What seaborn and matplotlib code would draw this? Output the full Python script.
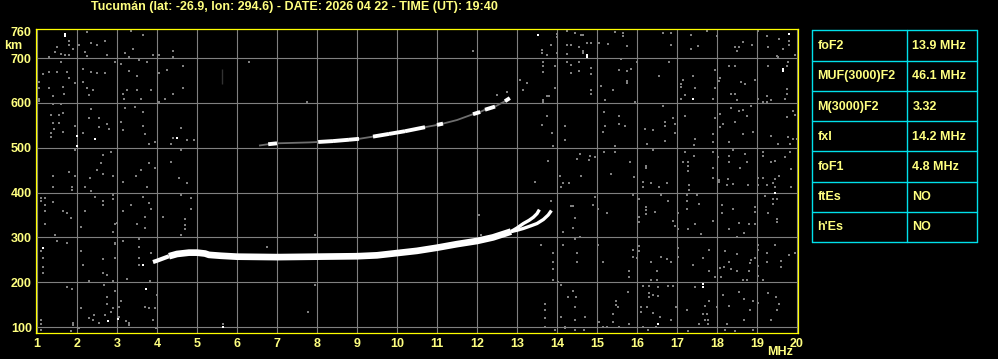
import numpy as np
import pandas as pd
import matplotlib
matplotlib.use("Agg")
import matplotlib.pyplot as plt
import seaborn as sns

# ---------------- data ----------------
title = "Tucumán (lat: -26.9, lon: 294.6) - DATE: 2026 04 22 - TIME (UT): 19:40"
x_ticks = list(range(1, 21))
y_ticks = [100, 200, 300, 400, 500, 600, 700, 760]
x_grid = list(range(1, 21))
y_grid = [100, 200, 300, 400, 500, 600, 700]

table_labels = ["foF2", "MUF(3000)F2", "M(3000)F2", "fxI", "foF1", "ftEs", "h'Es"]
table_values = ["13.9 MHz", "46.1 MHz", "3.32", "14.2 MHz", "4.8 MHz", "NO", "NO"]

# F-layer first-hop trace (common part)
trace_start_f = [3.9, 4.0, 4.15, 4.3]
trace_start_h = [245, 248, 253, 258]
trace_main_f = [4.3, 4.5, 4.8, 5.0, 5.2, 5.3, 5.6, 6.0, 7.0, 8.0, 9.0, 9.5, 10.0, 10.5, 11.0, 11.5, 12.0, 12.4, 12.85]
trace_main_h = [258, 263, 266, 266, 264, 261, 259, 257, 256, 257, 258, 260, 265, 270, 277, 285, 292, 300, 313]
# split branches near the critical frequency
branch_o_f = [12.85, 13.0, 13.16, 13.3, 13.41, 13.5, 13.56]
branch_o_h = [313, 321, 331, 338, 345, 353, 362]
branch_x_f = [12.85, 13.0, 13.16, 13.35, 13.5, 13.66, 13.78, 13.86]
branch_x_h = [313, 316, 320, 326, 331, 340, 350, 360]

# second-hop trace
upper_f = [6.55, 6.78, 7.0, 7.4, 7.8, 8.03, 8.4, 8.8, 9.05, 9.4, 9.8, 10.2, 10.7, 11.0, 11.15, 11.5, 11.9, 12.08, 12.2, 12.45, 12.7, 12.82]
upper_h = [505, 508, 510, 511, 512, 513, 515, 518, 520, 525, 531, 537, 546, 551, 554, 562, 575, 580, 585, 592, 604, 611]
upper_bright = [0, 1, 0, 0, 0, 1, 1, 1, 0, 1, 1, 1, 0, 1, 0, 0, 1, 0, 1, 0, 1, 0]

# vertical echo streak
streak_f = [5.63, 5.63]
streak_h = [642, 676]

# scattered noise echoes (gray)
noise_f = [
    2.25, 3.35, 3.64, 1.79, 1.50, 1.79, 2.04, 2.35, 2.50, 2.70, 1.44, 1.60, 1.70, 1.81, 1.89, 2.20, 2.25, 2.75, 3.20, 3.39,
    3.31, 3.89, 4.04, 4.39, 4.39, 1.29, 1.60, 2.95, 3.10, 3.54, 3.74, 4.64, 1.14, 1.29, 1.50, 1.74, 2.14, 2.35, 2.50, 2.70,
    3.29, 3.50, 4.04, 4.24, 1.79, 1.95, 1.04, 1.04, 1.29, 1.64, 2.14, 2.25, 2.40, 2.29, 3.14, 3.25, 3.50, 3.85, 4.39, 4.64,
    1.39, 1.68, 1.04, 1.04, 3.17, 3.60, 4.21, 4.04, 1.39, 1.60, 3.45, 3.20, 2.35, 3.64, 1.64, 1.35, 1.56, 2.56, 2.31, 2.75,
    2.79, 2.54, 3.10, 3.16, 3.64, 1.39, 1.54, 1.43, 1.35, 1.64, 1.96, 2.14, 1.35, 4.39, 4.60, 4.75, 4.93, 3.70, 3.81, 3.96,
    4.35, 4.60, 1.96, 2.64, 2.85, 2.60, 2.49, 2.64, 2.89, 1.81, 1.96, 1.39, 3.81, 3.60, 3.48, 3.96, 4.35, 4.54, 2.33,
    1.39, 1.88, 1.88, 2.21, 2.35, 3.14, 3.75, 4.74, 1.10, 1.10, 1.20, 1.39, 1.20, 1.20, 1.64, 1.75, 1.85, 2.20, 2.45, 2.64,
    2.64, 2.89, 2.89, 3.14, 3.35, 3.64, 3.79, 3.85, 3.70, 3.50, 3.70, 4.14, 4.60, 4.85, 4.85, 4.70, 4.70, 4.70, 4.60, 1.20,
    1.45, 1.50, 1.75, 2.10, 2.96, 2.89, 3.00, 1.10, 1.14, 1.14, 1.14, 2.10, 2.14, 2.64, 2.64, 2.75, 2.95, 2.95, 2.95, 3.14,
    3.54, 3.54, 3.54, 3.85, 3.56, 2.29, 2.89, 3.25, 3.83, 1.75, 1.88, 2.68, 2.95, 3.99, 2.75, 2.75, 2.10, 3.04, 2.89, 3.10,
    2.85, 2.71, 2.29, 2.43, 2.54, 2.39, 3.06, 3.22, 3.29, 3.29, 1.89, 1.89, 1.10, 1.10, 1.10, 3.71, 3.81, 3.96, 3.89, 3.98,
    1.85, 2.04,
    6.30, 7.74, 11.89, 12.49, 12.74, 13.08, 13.14, 13.24, 7.95, 6.74, 12.09, 13.45, 12.05, 13.59, 7.95, 7.78, 5.64,
    13.99, 13.99, 14.24, 14.45, 14.60, 14.65, 15.64, 15.64, 15.45, 16.66, 16.84, 17.74, 17.35, 17.99, 19.03, 19.24, 19.55,
    19.80, 19.80, 19.64, 19.95, 19.49, 13.85, 13.62, 13.62, 13.74, 13.99, 14.24, 14.24, 14.35, 14.55, 14.64, 14.64, 14.74,
    14.85, 15.28, 15.74, 15.05, 16.84, 17.53, 17.35, 18.45, 18.55, 18.87, 18.49, 18.66, 19.28, 19.53, 13.64, 13.64, 13.64,
    13.95, 14.24, 14.35, 14.56, 14.56, 14.85, 14.85, 14.35, 15.60, 15.55, 15.74, 15.85, 15.74, 15.74, 15.99, 16.55, 16.80,
    15.10, 15.39, 14.85, 14.85, 13.95, 13.74, 13.80, 13.64, 13.64, 15.20, 15.95, 17.09, 17.09, 17.16, 17.39, 17.45, 17.20,
    17.09, 17.95, 18.08, 18.05, 18.30, 18.45, 18.60, 18.70, 18.35, 18.45, 17.95, 17.91, 18.95, 18.49, 19.03, 19.14, 19.24,
    19.34, 19.24, 19.74, 19.74, 19.70, 19.74, 19.78, 19.28, 19.89, 19.95, 19.74, 13.74, 13.62, 13.87, 14.20, 14.20, 13.89,
    15.18, 15.55, 15.55, 15.16, 15.20, 15.70, 16.20, 16.41, 16.66, 16.70, 16.70, 16.91, 16.95, 16.95, 16.70, 16.26, 17.20,
    17.45, 17.43, 17.95, 17.89, 17.89, 18.08, 18.08, 18.35, 18.14, 18.31, 18.56, 18.66, 18.74, 18.84, 18.91, 18.66, 18.45,
    19.34, 19.78, 19.91, 19.99, 19.53, 19.83, 15.45, 14.57, 14.83, 14.95, 15.18, 15.45, 15.83, 16.23, 16.23, 16.41, 13.78,
    14.49, 14.81, 17.20, 17.28, 17.28, 17.14, 17.28, 17.43, 17.89, 17.89, 18.03, 18.31, 18.31, 18.39, 18.70, 18.74, 18.58,
    19.14, 19.14, 19.34, 19.45, 19.83, 19.70, 19.84, 14.08, 14.59, 15.35, 15.93, 17.89, 18.28, 19.03, 19.14, 19.45, 19.55,
    18.06,
    14.14, 14.31, 14.09, 16.14, 16.14, 16.35, 16.56, 16.74, 17.30, 17.30, 18.06, 18.24, 18.39, 18.78, 19.03, 19.24, 19.41,
    19.45, 19.84, 19.20, 19.41, 19.41, 19.49, 19.28, 19.49, 19.49, 13.84, 14.41, 14.34, 14.89, 14.95, 15.03, 15.24, 15.89,
    16.06, 16.05, 16.05, 16.23, 16.23, 16.45, 16.23, 16.59, 16.78, 17.03, 17.24, 17.24, 17.24, 17.49, 17.56, 16.91, 16.95,
    17.03, 17.28, 17.45, 17.59, 17.89, 18.12, 18.12, 18.31, 18.39, 18.56, 18.68, 18.80, 18.95, 18.95, 18.95, 18.49, 14.45,
    14.41, 14.14, 14.58, 14.45, 13.60, 14.16, 13.89, 13.89, 14.49, 14.49, 13.89, 13.89, 14.03, 15.03, 15.14, 15.81, 15.81,
    15.89, 15.89, 16.06, 16.06, 15.99, 16.35, 16.49, 16.34, 16.49, 16.59, 16.74, 16.84, 17.02, 17.02, 17.39, 17.66, 17.81,
    17.81, 17.95, 18.08, 18.10, 18.18, 18.20, 18.31, 18.35, 18.49, 18.49, 18.64, 18.74, 18.81, 18.83, 18.95, 19.03, 19.03,
    19.03, 19.03, 18.84, 19.24, 19.24, 19.45, 19.59, 19.59, 19.79, 19.95, 19.14, 14.09, 14.39, 14.47, 14.28, 13.70, 13.70,
    13.70, 13.70, 14.09, 14.45, 14.45, 14.70, 15.47, 15.47, 15.53, 15.39, 15.39, 15.78, 15.06, 15.16, 15.24, 14.68, 14.45,
    14.20, 14.20, 13.95, 16.16, 16.31, 16.31, 16.53, 16.78, 16.89, 16.09, 16.09, 16.24, 16.31, 16.39, 16.39, 16.53, 16.58,
    16.85, 16.16, 16.48, 16.28, 16.98, 17.24, 17.45, 17.70, 17.81, 17.99, 17.64, 17.74, 17.70, 17.78, 17.56, 17.78, 18.24,
    18.14, 18.31, 18.56, 18.68, 18.89, 19.03, 18.68, 18.83, 18.91, 19.28, 19.48, 19.56, 19.49, 19.34, 18.20, 18.45, 17.28,
    15.81, 15.56,
]
noise_h = [
    759, 761, 752, 739, 726, 729, 729, 734, 729, 739, 713, 709, 707, 707, 720, 714, 705, 707, 711, 720,
    702, 707, 707, 717, 702, 702, 691, 692, 687, 697, 692, 683, 665, 670, 670, 670, 677, 670, 666, 666,
    672, 661, 668, 673, 655, 644, 647, 633, 633, 635, 647, 633, 629, 618, 620, 629, 629, 629, 620, 633,
    616, 620, 605, 610, 609, 610, 610, 603, 598, 598, 592, 588, 586, 579, 577, 573, 573, 566, 566, 553,
    542, 546, 558, 540, 549, 555, 555, 543, 534, 536, 549, 534, 523, 522, 544, 517, 517, 531, 508, 512,
    508, 496, 496, 484, 491, 467, 450, 441, 438, 447, 438, 438, 467, 450, 438, 456, 469, 432, 432,
    413, 413, 406, 413, 404, 424, 413, 422, 387, 382, 389, 378, 372, 360, 360, 355, 343, 360, 391, 382,
    372, 395, 386, 360, 372, 391, 376, 363, 346, 329, 320, 346, 395, 389, 363, 341, 328, 319, 305, 329,
    305, 292, 288, 324, 329, 311, 333, 270, 253, 235, 221, 270, 238, 252, 221, 216, 288, 285, 255, 293,
    296, 279, 255, 266, 238, 203, 203, 207, 203, 190, 185, 194, 180, 171, 168, 151, 143, 145, 143, 157,
    133, 127, 121, 127, 110, 116, 123, 114, 110, 105, 110, 105, 116, 107, 93, 145, 142, 143, 116, 98,
    90, 98,
    692, 603, 717, 618, 625, 652, 629, 644, 305, 279, 305, 424, 350, 283, 194, 133, 106,
    754, 748, 761, 756, 752, 752, 756, 749, 758, 756, 756, 761, 752, 749, 761, 749, 743,
    739, 729, 720, 707, 706, 729, 719, 711, 707, 711, 709, 729, 729, 724, 717, 711, 735,
    734, 732, 728, 734, 729, 728, 720, 724, 724, 729, 715, 737, 724, 702, 692, 683, 670,
    683, 692, 685, 691, 672, 678, 665, 668, 698, 674, 672, 676, 650, 645, 692, 661, 692,
    639, 629, 629, 620, 633, 616, 616, 607, 603, 607, 603, 642, 635, 652, 661, 633, 618,
    609, 674, 655, 650, 683, 683, 646, 643, 620, 620, 633, 610, 652, 607, 609, 603, 603,
    607, 615, 631, 620, 609, 682, 691, 683, 583, 573, 568, 570, 551, 534, 548, 518, 505,
    579, 572, 553, 536, 548, 548, 542, 540, 594, 557, 548, 566, 553, 534, 516, 508, 570,
    520, 506, 566, 531, 514, 575, 546, 588, 553, 512, 583, 585, 572, 594, 536, 531, 557,
    527, 523, 520, 520, 509, 509, 503, 486, 482, 479, 490, 490, 469, 460, 456, 496, 471,
    475, 473, 490, 469, 460, 469, 449, 482, 491, 454, 479, 482, 468, 496, 486, 469, 454,
    490, 482, 468, 471, 490, 479, 453, 438, 438, 441, 434, 432, 430, 432, 432, 430, 438,
    429,
    422, 421, 412, 424, 413, 422, 413, 422, 417, 406, 424, 417, 419, 417, 417, 417, 422,
    413, 413, 392, 385, 375, 385, 354, 340, 335, 382, 370, 369, 372, 391, 363, 355, 395,
    385, 346, 335, 367, 361, 357, 352, 395, 382, 355, 395, 382, 363, 395, 375, 337, 325,
    318, 318, 330, 308, 337, 372, 354, 318, 363, 333, 310, 330, 367, 357, 330, 302, 343,
    322, 311, 300, 296, 283, 283, 266, 244, 266, 244, 229, 206, 201, 283, 244, 224, 212,
    273, 257, 281, 270, 253, 244, 224, 206, 206, 257, 251, 244, 276, 257, 238, 255, 273,
    226, 212, 231, 211, 235, 270, 244, 229, 264, 226, 206, 206, 226, 242, 255, 283, 272,
    236, 214, 250, 266, 244, 283, 248, 233, 261, 266, 205, 194, 181, 168, 168, 151, 138,
    119, 101, 122, 144, 116, 122, 157, 149, 144, 130, 112, 179, 112, 101, 101, 93, 93,
    101, 97, 93, 191, 191, 175, 190, 191, 191, 145, 134, 144, 168, 171, 132, 169, 122,
    116, 101, 99, 93, 144, 139, 190, 147, 157, 145, 130, 130, 116, 116, 107, 107, 107,
    171, 147, 179, 162, 157, 153, 116, 138, 93, 177, 168, 151, 138, 116, 93, 92, 92,
    107, 101,
]

# bright (white) isolated echoes
bright_f = [1.70, 1.70, 1.99, 2.45, 1.99, 4.50, 1.14, 3.64, 3.725, 2.77, 3.02, 5.64, 13.53,
            19.80, 14.74, 14.74, 17.39, 19.64, 19.64, 19.45, 17.64, 17.64, 16.53]
bright_h = [754, 750, 527, 520, 505, 521, 276, 238, 185, 114, 117, 101, 752,
            754, 707, 703, 609, 677, 672, 400, 190, 196, 107]

# ---------------- style ----------------
YELLOW_TXT = "#ffff80"
YELLOW_AX = "#ffff00"
GRID = "#808080"
CYAN = "#00e0ea"

sns.set_theme(style="dark")
plt.rcParams['font.family'] = ['Liberation Sans', 'DejaVu Sans']
plt.rcParams['font.weight'] = 'bold'

fig = plt.figure(figsize=(9.98, 3.59), dpi=100, facecolor="black")
W, H = 998, 359
left_px, right_px, top_px, bot_px = 36, 798, 29.3, 332.7
ax = fig.add_axes([left_px / W, 1 - bot_px / H, (right_px - left_px) / W, (bot_px - top_px) / H])
ax.set_facecolor("black")
ax.set_xlim(0.975, 20.025)
ax.set_ylim(87.3, 764.5)

for v in x_grid:
    ax.axvline(v, color=GRID, lw=0.8, zorder=0)
for v in y_grid:
    ax.axhline(v, color=GRID, lw=0.8, zorder=0)

sns.scatterplot(x=noise_f, y=noise_h, color=GRID, marker="s", s=4.2, linewidth=0, ax=ax, zorder=2)
sns.scatterplot(x=bright_f, y=bright_h, color="white", marker="s", s=4.2, linewidth=0, ax=ax, zorder=3)

sns.lineplot(x=streak_f, y=streak_h, color="white", lw=1.8, ax=ax, zorder=3, solid_capstyle="butt")

sns.lineplot(x=trace_start_f, y=trace_start_h, color="white", lw=3.0, ax=ax, zorder=4,
             solid_capstyle="butt")
sns.lineplot(x=trace_main_f, y=trace_main_h, color="white", lw=4.8, ax=ax, zorder=4,
             solid_capstyle="butt")
sns.lineplot(x=branch_o_f, y=branch_o_h, color="white", lw=2.4, ax=ax, zorder=4,
             solid_capstyle="butt")
sns.lineplot(x=branch_x_f, y=branch_x_h, color="white", lw=2.4, ax=ax, zorder=4,
             solid_capstyle="butt")

# second-hop: gray base, white bright segments
sns.lineplot(x=upper_f, y=upper_h, color="#6e6e6e", lw=1.3, ax=ax, zorder=3, solid_capstyle="butt")
seg_rows = []
for i in range(len(upper_f) - 1):
    if upper_bright[i]:
        seg_rows.append({"f": upper_f[i], "h": upper_h[i], "seg": i})
        seg_rows.append({"f": upper_f[i + 1], "h": upper_h[i + 1], "seg": i})
seg_df = pd.DataFrame(seg_rows)
sns.lineplot(data=seg_df, x="f", y="h", units="seg", estimator=None, color="white", lw=2.8,
             ax=ax, zorder=4, solid_capstyle="butt")

ax.set_xticks(x_ticks)
ax.set_yticks(y_ticks)
ax.set_xticklabels([str(t) for t in x_ticks])
ax.set_yticklabels([str(t) for t in y_ticks])
ax.tick_params(axis="both", length=0, colors=YELLOW_TXT, labelsize=9)
ax.tick_params(axis="x", pad=4)
ax.tick_params(axis="y", pad=3)
for lab in ax.get_xticklabels() + ax.get_yticklabels():
    lab.set_fontweight("bold")
ax.set_xlabel("")
ax.set_ylabel("")
ax.grid(False)
for sp in ax.spines.values():
    sp.set_visible(True)
    sp.set_color(YELLOW_AX)
    sp.set_linewidth(0.9)

fig.text(294 / W, 1 - 7 / H, title, color=YELLOW_TXT, fontsize=9.0, fontweight="bold",
         ha="center", va="center")
fig.text(13.5 / W, 1 - 46 / H, "km", color=YELLOW_TXT, fontsize=9, fontweight="bold",
         ha="center", va="center")
fig.text(780 / W, 1 - 352 / H, "MHz", color=YELLOW_TXT, fontsize=9, fontweight="bold",
         ha="center", va="center")

# ---------------- parameter table ----------------
t_left, t_right, t_top, t_bot = 812, 977, 30.3, 242
tax = fig.add_axes([t_left / W, 1 - t_bot / H, (t_right - t_left) / W, (t_bot - t_top) / H])
tax.set_xlim(0, 1)
n = len(table_labels)
tax.set_ylim(n, 0)
tax.set_facecolor("black")
tax.axis("off")
col_split = (907 - t_left) / (t_right - t_left)
for r in range(n + 1):
    tax.plot([0, 1], [r, r], color=CYAN, lw=1.0, clip_on=False)
tax.plot([0, 0], [0, n], color=CYAN, lw=1.0, clip_on=False)
tax.plot([1, 1], [0, n], color=CYAN, lw=1.0, clip_on=False)
tax.plot([col_split, col_split], [0, n], color=CYAN, lw=1.0, clip_on=False)
for r, (lab, val) in enumerate(zip(table_labels, table_values)):
    tax.text(0.033, r + 0.52, lab, color=YELLOW_TXT, fontsize=9, fontweight="bold", va="center", ha="left")
    tax.text(col_split + 0.033, r + 0.52, val, color=YELLOW_TXT, fontsize=9, fontweight="bold",
             va="center", ha="left")

fig.savefig("out.png", dpi=100, facecolor="black")
